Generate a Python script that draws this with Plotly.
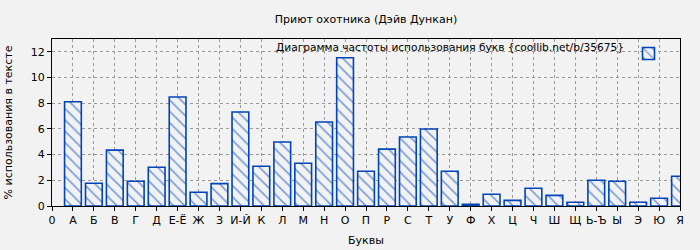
import plotly.graph_objects as go

letters = ["А", "Б", "В", "Г", "Д", "Е-Ё", "Ж", "З", "И-Й", "К", "Л", "М", "Н", "О", "П",
           "Р", "С", "Т", "У", "Ф", "Х", "Ц", "Ч", "Ш", "Щ", "Ь-Ъ", "Ы", "Э", "Ю", "Я"]
values = [8.12, 1.77, 4.35, 1.93, 3.02, 8.49, 1.07, 1.74, 7.32, 3.10, 4.98, 3.33, 6.54, 11.54, 2.71,
          4.43, 5.37, 5.99, 2.71, 0.13, 0.91, 0.44, 1.38, 0.83, 0.29, 2.00, 1.93, 0.29, 0.60, 2.32]
positions = list(range(1, len(letters) + 1))
tick_vals = [0] + positions
tick_text = ["0"] + letters

blue = "#0044b8"
bg = "#f2f2f2"
font = "DejaVu Sans"

fig = go.Figure()
fig.add_trace(go.Bar(
    x=positions, y=values, width=0.8, name=" ",
    marker=dict(color=bg, line=dict(color=blue, width=1.6),
                pattern=dict(shape="\\", fgcolor=blue, bgcolor=bg, size=8, solidity=0.2)),
    showlegend=True,
))

fig.update_layout(
    width=700, height=250,
    margin=dict(l=52, r=20, t=39, b=44),
    paper_bgcolor=bg, plot_bgcolor=bg,
    font=dict(family=font, size=11, color="#000"),
    title=dict(text="Приют охотника (Дэйв Дункан)", x=0.5, xref="paper", y=0.925, yref="container",
               xanchor="center", yanchor="middle", font=dict(size=11)),
    showlegend=True,
    legend=dict(x=0.918, y=1.0, xanchor="left", yanchor="top", bgcolor="rgba(0,0,0,0)",
                font=dict(size=11), itemwidth=30, tracegroupgap=0),
)
fig.add_annotation(text="Диаграмма частоты использования букв {coollib.net/b/35675}",
                   xref="paper", yref="paper", x=0.914, y=1.0, xanchor="right", yanchor="top",
                   showarrow=False, font=dict(size=10.6))

fig.update_xaxes(range=[0, 30], tickvals=tick_vals, ticktext=tick_text, automargin=False,
                 showgrid=True, gridcolor="#999", griddash="dot", gridwidth=1,
                 showline=True, linecolor="#000", linewidth=1, mirror=True,
                 ticks="outside", ticklen=4, tickcolor="#000",
                 title=dict(text="Буквы", font=dict(size=11), standoff=10),
                 zeroline=False, tickangle=0)
fig.update_yaxes(range=[0, 13], tickvals=[0, 2, 4, 6, 8, 10, 12], automargin=False,
                 showgrid=True, gridcolor="#999", griddash="dot", gridwidth=1,
                 showline=True, linecolor="#000", linewidth=1, mirror=True,
                 ticks="outside", ticklen=4, tickcolor="#000",
                 title=dict(text="% использования в тексте", font=dict(size=11), standoff=15),
                 zeroline=False)

fig.write_html("out.html")
